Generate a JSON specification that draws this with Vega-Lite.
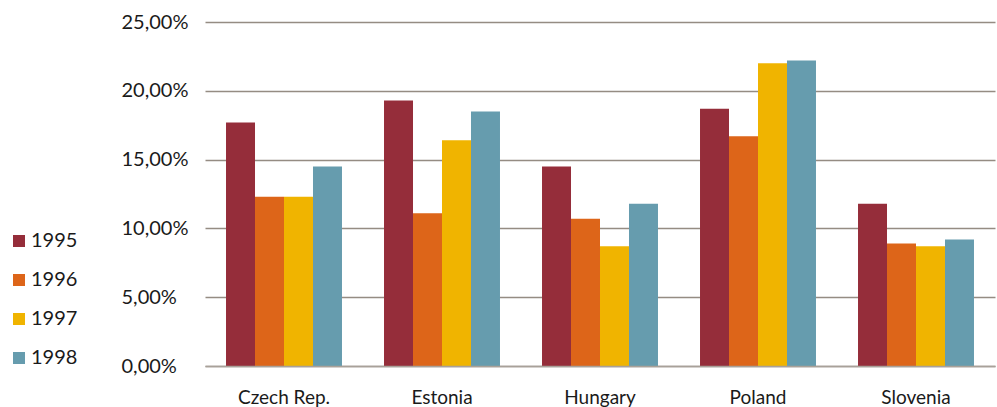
{
  "$schema": "https://vega.github.io/schema/vega-lite/v6.json",
  "width": 790,
  "height": 344,
  "autosize": {"type": "none"},
  "padding": {"left": 205, "top": 22, "right": 2, "bottom": 41},
  "background": "white",
  "data": {
    "values": [
      {"country": "Czech Rep.", "year": "1995", "value": 17.7},
      {"country": "Czech Rep.", "year": "1996", "value": 12.3},
      {"country": "Czech Rep.", "year": "1997", "value": 12.3},
      {"country": "Czech Rep.", "year": "1998", "value": 14.5},
      {"country": "Estonia", "year": "1995", "value": 19.3},
      {"country": "Estonia", "year": "1996", "value": 11.1},
      {"country": "Estonia", "year": "1997", "value": 16.4},
      {"country": "Estonia", "year": "1998", "value": 18.5},
      {"country": "Hungary", "year": "1995", "value": 14.5},
      {"country": "Hungary", "year": "1996", "value": 10.7},
      {"country": "Hungary", "year": "1997", "value": 8.7},
      {"country": "Hungary", "year": "1998", "value": 11.8},
      {"country": "Poland", "year": "1995", "value": 18.7},
      {"country": "Poland", "year": "1996", "value": 16.7},
      {"country": "Poland", "year": "1997", "value": 22.0},
      {"country": "Poland", "year": "1998", "value": 22.2},
      {"country": "Slovenia", "year": "1995", "value": 11.8},
      {"country": "Slovenia", "year": "1996", "value": 8.9},
      {"country": "Slovenia", "year": "1997", "value": 8.7},
      {"country": "Slovenia", "year": "1998", "value": 9.2}
    ]
  },
  "mark": {"type": "bar"},
  "encoding": {
    "x": {
      "field": "country",
      "type": "nominal",
      "sort": null,
      "title": null,
      "scale": {"paddingInner": 0.266, "paddingOuter": 0.133},
      "axis": {
        "labelAngle": 0,
        "labelFont": "Lato",
        "labelFontSize": 19,
        "labelColor": "#1a1a1a",
        "labelBaseline": "alphabetic",
        "labelPadding": 37,
        "ticks": false,
        "tickSize": 0,
        "domain": true,
        "domainColor": "#a8a199",
        "domainWidth": 1.5,
        "grid": false,
        "zindex": 1
      }
    },
    "xOffset": {"field": "year", "type": "nominal", "scale": {"paddingInner": 0, "paddingOuter": 0}},
    "y": {
      "field": "value",
      "type": "quantitative",
      "title": null,
      "scale": {"domain": [0, 25], "nice": false},
      "axis": {
        "values": [0, 5, 10, 15, 20, 25],
        "labelExpr": "replace(format(datum.value, '.2f'), '.', ',') + '%'",
        "labelFont": "Lato",
        "labelFontSize": 20,
        "labelColor": "#1a1a1a",
        "labelAlign": "left",
        "labelBaseline": "middle",
        "labelPadding": 84,
        "ticks": false,
        "tickSize": 0,
        "domain": false,
        "grid": true,
        "gridColor": "#958c83",
        "gridWidth": 1.3
      }
    },
    "color": {
      "field": "year",
      "type": "nominal",
      "title": null,
      "scale": {
        "domain": ["1995", "1996", "1997", "1998"],
        "range": ["#952d3a", "#dd6519", "#f0b400", "#669cae"]
      },
      "legend": {
        "orient": "none",
        "legendX": -196,
        "legendY": 209,
        "padding": 0,
        "symbolType": "square",
        "symbolSize": 144,
        "symbolStrokeWidth": 0,
        "symbolOpacity": 1,
        "labelFont": "Lato",
        "labelFontSize": 20,
        "labelColor": "#1a1a1a",
        "labelOffset": 2,
        "rowPadding": 19
      }
    }
  },
  "config": {
    "view": {"stroke": null}
  }
}
